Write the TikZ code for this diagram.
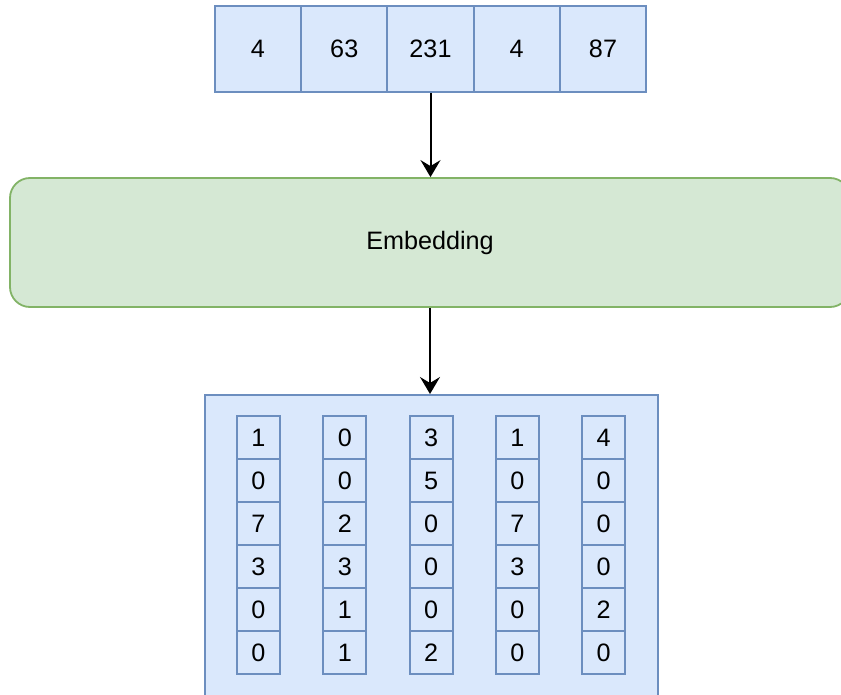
\documentclass[tikz,border=0pt]{standalone}
\usepackage{fontspec}
\setmainfont{Liberation Sans}
\usetikzlibrary{arrows.meta}
\definecolor{bluefill}{HTML}{DAE8FC}
\definecolor{bluedraw}{HTML}{6C8EBF}
\definecolor{greenfill}{HTML}{D5E8D4}
\definecolor{greendraw}{HTML}{82B366}
\tikzset{
  labelfont/.style={font=\fontsize{12.6}{15}\selectfont},
  tokencell/.style={draw=bluedraw, fill=bluefill, line width=0.9pt, inner sep=0pt,
    minimum width=43pt, minimum height=43pt, labelfont},
  vecbox/.style={draw=bluedraw, fill=bluefill, line width=0.9pt, inner sep=0pt,
    minimum width=21.5pt, minimum height=21.5pt, labelfont},
  embbox/.style={draw=greendraw, fill=greenfill, line width=0.9pt, rounded corners=10pt,
    inner sep=0pt, minimum width=420pt, minimum height=64.5pt, labelfont},
  outerbox/.style={draw=bluedraw, fill=bluefill, line width=0.9pt, inner sep=0pt,
    minimum width=226.5pt, minimum height=180pt},
  flow/.style={draw=black, line width=1pt, -{Stealth[length=8.5pt,width=10pt,inset=3pt]}}
}
\begin{document}
\begin{tikzpicture}[x=0.5pt,y=-0.5pt]
\useasboundingbox (0,0) rectangle (841,695);
\clip (0,0) rectangle (841,695);

% input token ids
\foreach \v [count=\i] in {4,63,231,4,87}
  \node[tokencell] (t\i) at ({258+86.25*(\i-1)},49) {\v};

% embedding layer
\node[embbox] (emb) at (430,242.5) {Embedding};

% container of the embedded vectors
\node[outerbox, anchor=north west] (out) at (204,394) {};

% one column vector per token
\foreach \col [count=\i] in {{1,0,7,3,0,0},{0,0,2,3,1,1},{3,5,0,0,0,2},{1,0,7,3,0,0},{4,0,0,0,2,0}}
  \foreach \v [count=\j] in \col
    \node[vecbox] (c\i-\j) at ({258.5+86.3*(\i-1)},{437.5+43*(\j-1)}) {\v};

% connectors
\draw[flow] (t3.south) -- (t3.south |- emb.north);
\draw[flow] (emb.south) -- (emb.south |- out.north);
\end{tikzpicture}
\end{document}
